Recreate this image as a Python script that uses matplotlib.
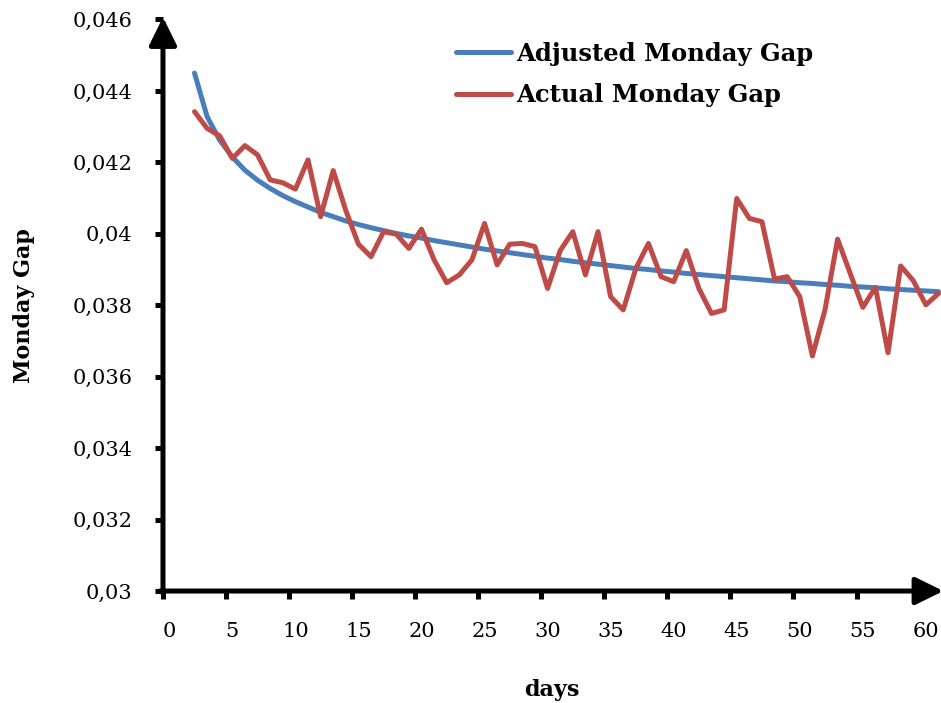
import matplotlib
matplotlib.use('Agg')
import matplotlib.pyplot as plt
from matplotlib.ticker import FixedLocator, FuncFormatter

# data
days = list(range(2, 62))

adjusted_gap = [0.04450, 0.04328, 0.04262, 0.04215, 0.04178, 0.04150, 0.04127, 0.04107, 0.04090, 0.04075,
                0.04060, 0.04048, 0.04036, 0.04026, 0.04017, 0.04009, 0.04001, 0.03994, 0.03988, 0.03981,
                0.03975, 0.03969, 0.03963, 0.03957, 0.03952, 0.03947, 0.03942, 0.03937, 0.03932, 0.03928,
                0.03923, 0.03919, 0.03915, 0.03911, 0.03907, 0.03903, 0.03900, 0.03896, 0.03893, 0.03889,
                0.03886, 0.03883, 0.03880, 0.03877, 0.03874, 0.03871, 0.03868, 0.03866, 0.03863, 0.03861,
                0.03858, 0.03856, 0.03853, 0.03851, 0.03849, 0.03846, 0.03844, 0.03842, 0.03840, 0.03838]

actual_gap = [0.04342, 0.04295, 0.04274, 0.04211, 0.04247, 0.04221, 0.04151, 0.04143, 0.04125, 0.04207,
              0.04048, 0.04177, 0.04065, 0.03971, 0.03936, 0.04006, 0.03999, 0.03959, 0.04013, 0.03927,
              0.03863, 0.03885, 0.03927, 0.04029, 0.03913, 0.03971, 0.03973, 0.03964, 0.03847, 0.03953,
              0.04006, 0.03885, 0.04006, 0.03824, 0.03787, 0.03903, 0.03973, 0.03880, 0.03866, 0.03953,
              0.03847, 0.03777, 0.03787, 0.04099, 0.04043, 0.04034, 0.03873, 0.03880, 0.03824, 0.03658,
              0.03787, 0.03985, 0.03889, 0.03794, 0.03850, 0.03667, 0.03910, 0.03869, 0.03801, 0.03833]

x_labels = [0, 5, 10, 15, 20, 25, 30, 35, 40, 45, 50, 55, 60]
y_ticks = [0.03, 0.032, 0.034, 0.036, 0.038, 0.04, 0.042, 0.044, 0.046]

plt.rcParams['font.family'] = 'DejaVu Serif'

fig = plt.figure(figsize=(9.41, 7.03), dpi=100)
ax = fig.add_axes([0.1732, 0.1593, 0.8268, 0.813])

ax.plot(days, adjusted_gap, color='#4A7EBB', lw=3.6, label='Adjusted Monday Gap', solid_capstyle='round')
ax.plot(days, actual_gap, color='#BE4B48', lw=3.6, label='Actual Monday Gap', solid_capstyle='round')

ax.set_xlim(-0.5, 61.2)
ax.set_ylim(0.03, 0.046)

# axes drawn as arrows
for s in ax.spines.values():
    s.set_visible(False)
arrow = dict(arrowstyle='-|>,head_length=0.85,head_width=0.42', lw=3.6, color='k',
             shrinkA=0, shrinkB=0, mutation_scale=20)
ax.annotate('', xy=(0, 1.004), xytext=(0, -0.004), xycoords='axes fraction',
            arrowprops=arrow, annotation_clip=False)
ax.annotate('', xy=(1.003, 0), xytext=(-0.004, 0), xycoords='axes fraction',
            arrowprops=arrow, annotation_clip=False)

# tick marks sit between categories, labels on the categories
ax.xaxis.set_major_locator(FixedLocator([v - 0.5 for v in x_labels[:-1]]))
ax.xaxis.set_major_formatter(FuncFormatter(lambda v, p: ''))
ax.xaxis.set_minor_locator(FixedLocator(x_labels))
ax.xaxis.set_minor_formatter(FuncFormatter(lambda v, p: '%d' % v))
ax.tick_params(axis='x', which='major', length=6, width=3.6, direction='out')
ax.tick_params(axis='x', which='minor', length=0, pad=22, labelsize=15)

ax.set_yticks(y_ticks)
ax.yaxis.set_major_formatter(FuncFormatter(lambda v, p: ('%g' % round(v, 4)).replace('.', ',')))
ax.tick_params(axis='y', length=6, width=3.6, direction='out', pad=16, labelsize=15)

ax.set_xlabel('days', fontsize=16, fontweight='bold', labelpad=28)
ax.set_ylabel('Monday Gap', fontsize=16, fontweight='bold', labelpad=27)

ax.legend(loc='upper left', bbox_to_anchor=(0.352, 0.995), frameon=False,
          prop={'size': 17.5, 'weight': 'bold'}, handlelength=2.25, handletextpad=0.2,
          labelspacing=0.72, borderpad=0.3)

plt.savefig('out.png', dpi=100)
